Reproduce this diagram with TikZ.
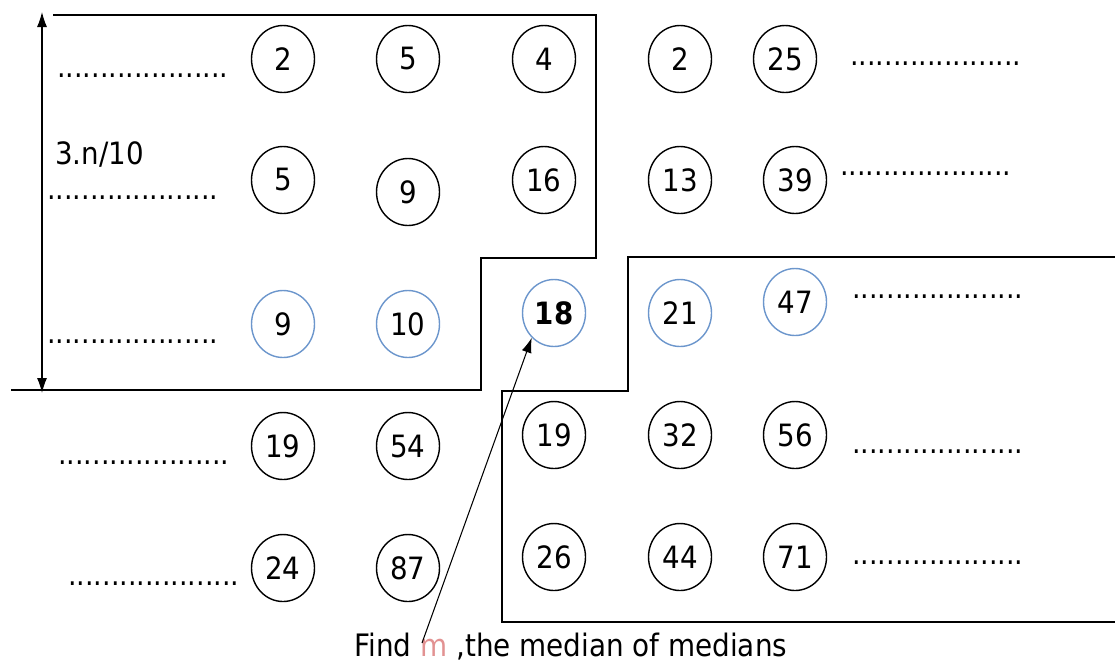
\documentclass[tikz,border=0pt]{standalone}
\usepackage{fontspec}
\setmainfont{DejaVu Sans Condensed}
\usepackage{xcolor}
\usetikzlibrary{arrows.meta, positioning, shapes.geometric}

\definecolor{ringblue}{RGB}{108,150,204}
\definecolor{mred}{RGB}{226,146,146}

\newcommand{\dotrun}{....................}

\begin{document}
\begin{tikzpicture}[
    x=0.02cm, y=-0.02cm,
    num/.style={
        ellipse,
        draw,
        line width=0.8pt,
        inner sep=0pt,
        minimum width=1.26cm,
        minimum height=1.34cm,
        font=\fontsize{17.5}{20}\selectfont
    },
    pick/.style={num, draw=ringblue},
    dots/.style={anchor=base west, inner sep=0pt, font=\fontsize{17}{20}\selectfont},
    frame/.style={line width=0.8pt},
    arrow/.style={-{Latex[length=3mm, width=2mm]}, line width=0.6pt}
]
\useasboundingbox (0,0) rectangle (1115,664);

% columns of five
\node[num] (a1) at (283,59) {2};
\node[num] (a2) at (408,59) {5};
\node[num] (a3) at (544,59) {4};
\node[num] (a4) at (680,59) {2};
\node[num] (a5) at (785,59) {25};

\node[num] (b1) at (283,180) {5};
\node[num] (b2) at (408,192) {9};
\node[num] (b3) at (544,180) {16};
\node[num] (b4) at (680,180) {13};
\node[num] (b5) at (795,180) {39};

\node[pick] (c1) at (283,324) {9};
\node[pick] (c2) at (408,324) {10};
\node[pick] (c3) at (554,313) {\textbf{18}};
\node[pick] (c4) at (680,313) {21};
\node[pick] (c5) at (795,302) {47};

\node[num] (d1) at (283,446) {19};
\node[num] (d2) at (408,446) {54};
\node[num] (d3) at (554,435) {19};
\node[num] (d4) at (680,435) {32};
\node[num] (d5) at (795,435) {56};

\node[num] (e1) at (283,568) {24};
\node[num] (e2) at (408,568) {87};
\node[num] (e3) at (554,557) {26};
\node[num] (e4) at (680,557) {44};
\node[num] (e5) at (795,557) {71};

% dotted rows
\node[dots] (la) at (57,77) {\dotrun};
\node[dots] (lb) at (47,199) {\dotrun};
\node[dots] (lc) at (47,343) {\dotrun};
\node[dots] (ld) at (58,464) {\dotrun};
\node[dots] (le) at (68,585) {\dotrun};
\node[dots] (ra) at (850,65) {\dotrun};
\node[dots] (rb) at (840,175) {\dotrun};
\node[dots] (rc) at (852,298) {\dotrun};
\node[dots] (rd) at (852,453) {\dotrun};
\node[dots] (re) at (852,564) {\dotrun};

\node[anchor=base west, inner sep=0pt, font=\fontsize{17.5}{20}\selectfont] (frac) at (55,164) {3.n/10};

% regions
\draw[frame] (53,15) -- (596,15) -- (596,258) -- (481,258) -- (481,390) -- (11,390);
\draw[frame] (1116,257) -- (628,257) -- (628,391) -- (502,391) -- (502,622) -- (1116,622);

\coordinate (top) at (42,12);
\coordinate (bot) at (42,393);
\draw[arrow, {Latex[length=3mm, width=2mm]}-{Latex[length=3mm, width=2mm]}] (top) -- (bot);

\node[anchor=base, inner sep=0pt, font=\fontsize{17.6}{22}\selectfont] (find) at (571,656)
    {Find \textcolor{mred}{m} ,the median of medians};
\coordinate (tail) at (422,643);
\draw[arrow] (tail) -- (c3.228);

\end{tikzpicture}
\end{document}
